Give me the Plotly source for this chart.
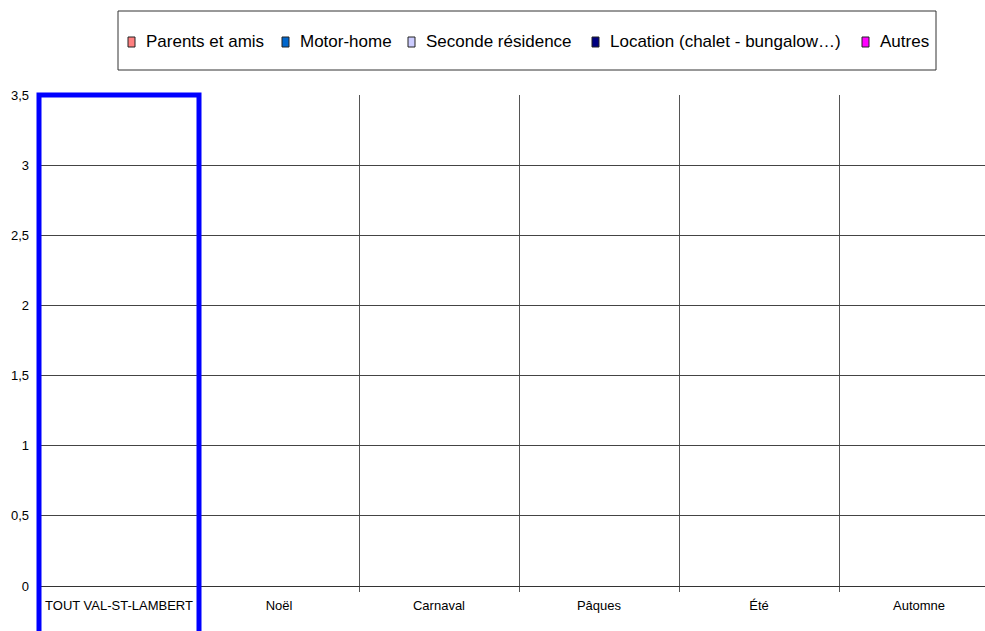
import plotly.graph_objects as go

# categories (x axis)
categories = ['TOUT VAL-ST-LAMBERT', 'Noël', 'Carnaval', 'Pâques', 'Été', 'Automne']

# series values (all empty in the reference)
parents_amis = [0, 0, 0, 0, 0, 0]
motor_home = [0, 0, 0, 0, 0, 0]
seconde_residence = [0, 0, 0, 0, 0, 0]
location = [0, 0, 0, 0, 0, 0]
autres = [0, 0, 0, 0, 0, 0]

series_names = ['Parents et amis', 'Motor-home', 'Seconde résidence',
                'Location (chalet - bungalow…)', 'Autres']
series_values = [parents_amis, motor_home, seconde_residence, location, autres]
series_colors = ['#FF8080', '#0066CC', '#CCCCFF', '#000080', '#FF00FF']

y_ticks = [0, 0.5, 1, 1.5, 2, 2.5, 3, 3.5]

W, H = 985, 631
plot_l, plot_t, plot_b = 39, 95, 586      # plot area in pixels
cat_px = 160                               # pixel width of one category
plot_w = W - plot_l                        # last category runs off the right edge
plot_h = plot_b - plot_t
x_range = [-0.5, -0.5 + plot_w / cat_px]


def px_x(x):
    return (x - plot_l) / plot_w


def px_y(y):
    return (plot_b - y) / plot_h


fig = go.Figure()
for name, vals, col in zip(series_names, series_values, series_colors):
    fig.add_trace(go.Bar(
        x=categories, y=vals, name=name, showlegend=False,
        marker=dict(color=col, line=dict(width=0)),
    ))

# highlight box around the first category
x_span = x_range[1] - x_range[0]
fig.add_shape(
    type='rect', xref='paper', yref='paper',
    x0=0, x1=1 / x_span, y0=-0.2, y1=1,
    line=dict(color='#0000FF', width=5), fillcolor='rgba(0,0,0,0)', layer='above',
)

# legend frame + entries
fig.add_shape(
    type='rect', xref='paper', yref='paper',
    x0=px_x(118), x1=px_x(936), y0=px_y(70), y1=px_y(11),
    line=dict(color='#333333', width=1), fillcolor='white',
)
legend_x = [128, 282, 408, 592, 862]
for name, col, lx in zip(series_names, series_colors, legend_x):
    fig.add_shape(
        type='rect', xref='paper', yref='paper',
        x0=px_x(lx), x1=px_x(lx + 7), y0=px_y(47), y1=px_y(37),
        line=dict(color='#222222', width=1), fillcolor=col,
    )
    fig.add_annotation(
        xref='paper', yref='paper', x=px_x(lx + 16), y=px_y(42),
        text=name, showarrow=False, xanchor='left', yanchor='middle',
        font=dict(size=17),
    )

fig.update_layout(
    width=W, height=H,
    margin=dict(l=plot_l, r=0, t=plot_t, b=H - plot_b, pad=0),
    paper_bgcolor='white', plot_bgcolor='white',
    barmode='group',
    separators=', ',
    font=dict(family='Liberation Sans, Arial, sans-serif', color='#000000', size=13),
    showlegend=False,
    xaxis=dict(
        type='category', range=x_range,
        tickson='boundaries', ticks='outside', ticklen=5, tickcolor='#555555',
        showgrid=True, gridcolor='#555555', gridwidth=1,
        showline=True, linecolor='#333333', linewidth=1,
        tickfont=dict(size=13), ticklabelstandoff=7, fixedrange=True,
    ),
    yaxis=dict(
        range=[0, 3.5], tickvals=y_ticks, tickformat='.1~f',
        showgrid=True, gridcolor='#444444', gridwidth=1,
        zeroline=False, showline=False, ticks='',
        ticklabelstandoff=9, tickfont=dict(size=13), fixedrange=True,
    ),
)

# drop the default page margin so the figure sits at the window's corner
fig.write_html('out.html', config={'displayModeBar': False},
               post_script="document.body.style.margin='0';"
                           "document.body.style.overflow='hidden';")
